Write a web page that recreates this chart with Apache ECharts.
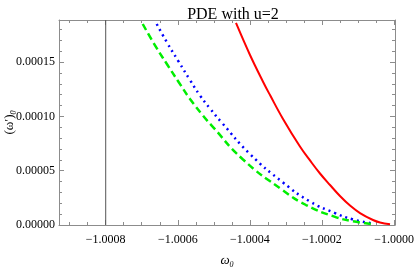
<!DOCTYPE html>
<html>
<head>
<meta charset="utf-8">
<script src="https://cdn.jsdelivr.net/npm/echarts@6/dist/echarts.min.js"></script>
<style>
html,body{margin:0;padding:0;background:#fff;}
#main{width:415px;height:267px;}
</style>
</head>
<body>
<div id="main"></div>
<script>
// ---- data ----
const titleText = 'PDE with u=2';
const xMin = -1.0009296;
const xMax = -0.9999973;
const yMin = 0;
const yMax = 0.0001887;
const markX = -1.0008;

const redX = [-1.0004385, -1.0003996, -1.0003635, -1.0003441, -1.000308, -1.000261, -1.0002331, -1.0002054, -1.0001776, -1.00015, -1.0001221, -1.0000944, -1.0000583, -1.0000389, -1.0000111];
const redY = [0.0001860, 0.0001565, 0.0001319, 0.0001196, 0.0000976, 0.0000722, 0.0000594, 0.0000474, 0.0000368, 0.0000267, 0.0000179, 0.0000110, 0.0000046, 0.0000023, 0.0000006];

const blueX = [-1.0006585, -1.0006291, -1.0005986, -1.0005661, -1.0005383, -1.0005106, -1.0004781, -1.0003996, -1.000308, -1.0002331, -1.0001638, -1.0001138, -1.0000583];
const blueY = [0.0001850, 0.0001675, 0.0001509, 0.0001334, 0.0001192, 0.0001072, 0.0000943, 0.0000653, 0.0000391, 0.0000216, 0.0000110, 0.0000051, 0.0000014];

const greenX = [-1.0006973, -1.0006632, -1.0006307, -1.0005986, -1.0005661, -1.0005292, -1.0005078, -1.000419, -1.000308, -1.0002442, -1.0001638, -1.0001138, -1.0000611];
const greenY = [0.0001850, 0.0001654, 0.0001484, 0.0001321, 0.0001160, 0.0001003, 0.0000922, 0.0000603, 0.0000318, 0.0000184, 0.0000075, 0.0000035, 0.0000009];

function pairs(xs, ys) { return xs.map((x, i) => [x, ys[i]]); }

const serif = 'Liberation Serif, Times New Roman, serif';
const frameColor = '#8c8c8c';

function xAxisDef(pos, showLabels) {
  return {
    type: 'value', position: pos, min: xMin, max: xMax, splitNumber: 5,
    axisLine: { show: true, onZero: false, lineStyle: { color: frameColor, width: 1 } },
    axisTick: { show: true, inside: true, length: 5, lineStyle: { color: frameColor } },
    minorTick: { show: true, splitNumber: 4, length: 3, lineStyle: { color: frameColor } },
    splitLine: { show: false },
    axisLabel: {
      show: showLabels, showMinLabel: false, showMaxLabel: false, margin: 9,
      fontFamily: serif, fontSize: 12, color: '#000',
      formatter: v => v.toFixed(4).replace('-', '\u2212')
    }
  };
}
function yAxisDef(pos, showLabels) {
  return {
    type: 'value', position: pos, min: yMin, max: yMax, interval: 0.00005,
    axisLine: { show: true, onZero: false, lineStyle: { color: frameColor, width: 1 } },
    axisTick: { show: true, inside: true, length: 5, lineStyle: { color: frameColor } },
    minorTick: { show: true, splitNumber: 5, length: 3, lineStyle: { color: frameColor } },
    splitLine: { show: false },
    axisLabel: {
      show: showLabels, showMaxLabel: false, margin: 4,
      fontFamily: serif, fontSize: 12, color: '#000',
      formatter: v => v.toFixed(5)
    }
  };
}

const xa0 = xAxisDef('bottom', true);
xa0.name = '{w|\u03c9}{s|0}';
xa0.nameLocation = 'middle';
xa0.nameGap = 28;
xa0.nameMoveOverlap = false;
xa0.nameTextStyle = {
  fontFamily: serif, color: '#000',
  rich: {
    w: { fontFamily: serif, fontSize: 13, fontStyle: 'italic', color: '#000' },
    s: { fontFamily: serif, fontSize: 8, fontStyle: 'italic', color: '#000', padding: [8, 0, 0, 0] }
  }
};
const ya0 = yAxisDef('left', true);
ya0.name = '{w|(\u03c9\u2032)}{s|0}';
ya0.nameLocation = 'middle';
ya0.nameGap = 41;
ya0.nameMoveOverlap = false;
ya0.nameTextStyle = {
  fontFamily: serif, color: '#000',
  rich: {
    w: { fontFamily: serif, fontSize: 13, color: '#000' },
    s: { fontFamily: serif, fontSize: 8, fontStyle: 'italic', color: '#000', padding: [8, 0, 0, 0] }
  }
};

const chart = echarts.init(document.getElementById('main'), null, { renderer: 'canvas' });
chart.setOption({
  animation: false,
  backgroundColor: '#fff',
  title: {
    text: titleText, left: 228, textAlign: 'center', top: 2,
    textStyle: { fontFamily: serif, fontSize: 16, fontWeight: 'normal', color: '#000' }
  },
  grid: { left: 59, right: 20, top: 20, bottom: 42, containLabel: false, outerBoundsMode: 'none' },
  xAxis: [xa0, xAxisDef('top', false)],
  yAxis: [ya0, yAxisDef('right', false)],
  series: [
    {
      type: 'line', data: [[markX, yMin], [markX, yMax]], showSymbol: false,
      lineStyle: { color: '#555', width: 1 }, z: 1
    },
    {
      type: 'line', data: pairs(redX, redY), showSymbol: false, smooth: 0.4,
      lineStyle: { color: '#ff0000', width: 2 }
    },
    {
      type: 'line', data: pairs(blueX, blueY), showSymbol: false, smooth: 0.5,
      lineStyle: { color: '#0000ff', width: 2.5, type: [2, 4] }
    },
    {
      type: 'line', data: pairs(greenX, greenY), showSymbol: false, smooth: 0.5,
      lineStyle: { color: '#00ee00', width: 2.5, type: [7, 4] }
    }
  ]
});
</script>
</body>
</html>
